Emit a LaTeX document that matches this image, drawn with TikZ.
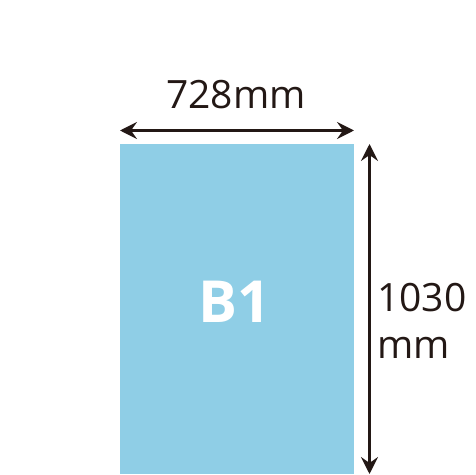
\documentclass[tikz,border=0pt]{standalone}
\usepackage{fontspec}
\setmainfont{Open Sans}
\usetikzlibrary{arrows.meta}
\definecolor{paper}{RGB}{143,206,230}
\definecolor{ink}{RGB}{35,24,21}
\tikzset{
  tip/.tip={Stealth[length=17pt,width=17pt,inset=6pt]},
  dim/.style={draw=ink,line width=2.2pt,tip-tip},
  lbl/.style={text=ink,inner sep=0pt,font=\fontsize{39}{43}\selectfont}
}
\begin{document}
\begin{tikzpicture}[x=1pt,y=1pt]
\useasboundingbox (0,0) rectangle (475,475);
\fill[paper] (120,1) rectangle (354,331);
\node[text=white,inner sep=0pt,font=\fontsize{58}{62}\selectfont\bfseries,anchor=base] (b1) at (235,152) {B1};
\coordinate (hl) at (120,344.5);
\coordinate (hr) at (354,344.5);
\draw[dim] (hl) -- (hr);
\coordinate (vt) at (369.5,331);
\coordinate (vb) at (369.5,1);
\draw[dim] (vt) -- (vb);
\node[lbl,anchor=base] (w) at (236,366) {728mm};
\node[lbl,anchor=base west] (h1) at (377,163) {1030};
\node[lbl,anchor=base west] (h2) at (377,116) {mm};
\end{tikzpicture}
\end{document}
